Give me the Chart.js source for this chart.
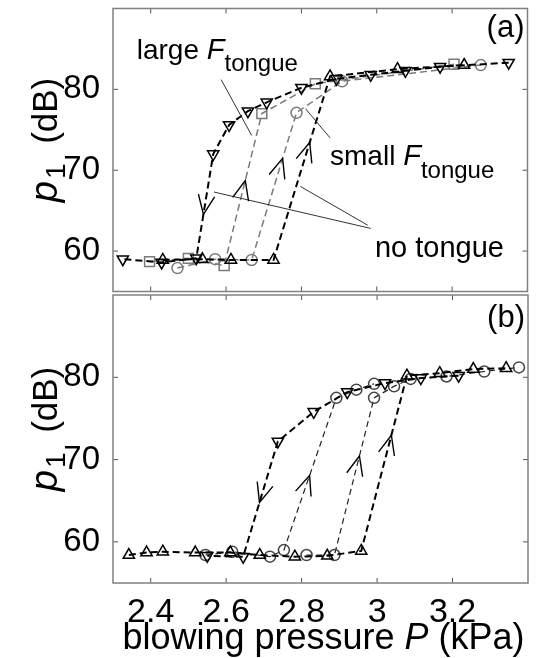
<!DOCTYPE html>
<html>
<head>
<meta charset="utf-8">
<script src="https://cdn.jsdelivr.net/npm/chart.js@4.4.1/dist/chart.umd.min.js"></script>
<style>
  html, body { margin: 0; padding: 0; background: #fff; }
  #wrap { position: relative; width: 536px; height: 658px; }
  #wrap canvas { position: absolute; left: 0; }
</style>
</head>
<body>
<div id="wrap">
  <canvas id="chartA" width="536" height="300" style="top:0"></canvas>
  <canvas id="chartB" width="536" height="371" style="top:287px"></canvas>
</div>
<script>
const xTicks = [2.4, 2.6, 2.8, 3, 3.2];
const xTickLabels = ['2.4', '2.6', '2.8', '3', '3.2'];
const yTicks = [60, 70, 80];

// panel (a) - pressure P (kPa) and level p1 (dB)
const aDownP = [3.350, 3.168, 3.076, 2.984, 2.893, 2.800, 2.708, 2.658, 2.608, 2.566, 2.521, 2.429, 2.326];
const aDownL = [83.3, 82.8, 82.3, 81.8, 81.3, 80.2, 78.4, 77.3, 75.6, 72.0, 59.1, 58.6, 59.0];
const aUpP = [2.432, 2.537, 2.613, 2.726, 2.876, 3.055, 3.232];
const aUpL = [58.9, 59.0, 58.9, 58.9, 81.6, 82.5, 83.0];
const aLargeP = [2.397, 2.500, 2.595, 2.695, 2.837, 3.205];
const aLargeL = [58.7, 59.1, 58.2, 77.0, 80.7, 83.1];
const aSmallP = [2.471, 2.571, 2.668, 2.787, 2.908, 3.276];
const aSmallL = [57.9, 59.0, 58.9, 77.1, 81.0, 83.0];

// panel (b)
const bDownP = [3.216, 3.116, 3.021, 2.921, 2.832, 2.737, 2.645, 2.550];
const bDownL = [80.2, 79.9, 79.3, 78.2, 75.8, 72.2, 58.2, 58.3];
const bUpP = [2.342, 2.389, 2.432, 2.518, 2.611, 2.689, 2.782, 2.868, 2.958, 3.079, 3.166, 3.255, 3.342];
const bUpL = [58.4, 58.7, 58.8, 58.7, 58.7, 58.4, 58.2, 58.3, 58.9, 80.2, 80.5, 81.0, 81.1];
const bCirc1P = [2.545, 2.616, 2.716, 2.753, 2.892, 2.945, 2.992];
const bCirc1L = [58.4, 58.8, 58.2, 59.0, 77.5, 78.5, 79.2];
const bCirc2P = [2.813, 2.887, 2.992, 3.045, 3.089, 3.184, 3.284, 3.376];
const bCirc2L = [58.4, 58.4, 77.5, 78.9, 79.8, 80.1, 80.7, 81.2];

const FONT = "'Liberation Sans', Arial, Helvetica, sans-serif";
const GRAY = '#7a7a7a';

const pts = (P, L) => P.map((p, i) => ({ x: p, y: L[i] }));

function series(P, L, col, lw, dash, shape, r, rot, ptCol) {
  return {
    data: pts(P, L), showLine: true,
    borderColor: col, borderWidth: lw, borderDash: dash,
    pointStyle: shape, pointRadius: r, rotation: rot || 0,
    pointBorderColor: ptCol || col, pointBorderWidth: 1.5,
    pointBackgroundColor: 'rgba(0,0,0,0)'
  };
}

function rich(ctx, x, y, parts, align) {
  const f = p => (p[2] ? 'italic ' : '') + p[1] + 'px ' + FONT;
  let w = 0;
  parts.forEach(p => { ctx.font = f(p); w += ctx.measureText(p[0]).width; });
  let cx = align === 'center' ? x - w / 2 : align === 'right' ? x - w : x;
  parts.forEach(p => {
    ctx.font = f(p);
    ctx.fillText(p[0], cx, y + (p[3] || 0));
    cx += ctx.measureText(p[0]).width;
  });
}

const decor = {
  id: 'decor',
  afterDraw(chart, args, o) {
    const { ctx, chartArea: a, scales: { x, y } } = chart;
    ctx.save();
    // inner ticks
    ctx.strokeStyle = '#555'; ctx.lineWidth = 1;
    ctx.beginPath();
    xTicks.forEach(v => {
      const px = x.getPixelForValue(v);
      ctx.moveTo(px, a.top); ctx.lineTo(px, a.top + 5);
      ctx.moveTo(px, a.bottom); ctx.lineTo(px, a.bottom - 5);
    });
    yTicks.forEach(v => {
      const py = y.getPixelForValue(v);
      ctx.moveTo(a.left, py); ctx.lineTo(a.left + 5, py);
      ctx.moveTo(a.right, py); ctx.lineTo(a.right - 5, py);
    });
    ctx.stroke();
    // frame
    ctx.strokeStyle = '#808080'; ctx.lineWidth = 1.5;
    ctx.strokeRect(a.left, a.top, a.right - a.left, a.bottom - a.top);

    // pointer lines
    ctx.strokeStyle = '#333'; ctx.lineWidth = 1;
    (o.pointers || []).forEach(([x0, y0, x1, y1]) => {
      ctx.beginPath();
      ctx.moveTo(x.getPixelForValue(x0), y.getPixelForValue(y0));
      ctx.lineTo(x.getPixelForValue(x1), y.getPixelForValue(y1));
      ctx.stroke();
    });

    // arrow heads on the jump lines
    ctx.strokeStyle = '#000'; ctx.lineWidth = 1.4;
    (o.arrows || []).forEach(([ds, i, t]) => {
      const d = chart.getDatasetMeta(ds).data;
      const p0 = d[i], p1 = d[i + 1];
      const tx = p0.x + (p1.x - p0.x) * t, ty = p0.y + (p1.y - p0.y) * t;
      const ang = Math.atan2(p1.y - p0.y, p1.x - p0.x);
      const len = 21, sp = 0.4;
      ctx.beginPath();
      ctx.moveTo(tx - len * Math.cos(ang - sp), ty - len * Math.sin(ang - sp));
      ctx.lineTo(tx, ty);
      ctx.lineTo(tx - len * Math.cos(ang + sp), ty - len * Math.sin(ang + sp));
      ctx.stroke();
    });

    // text labels
    ctx.fillStyle = '#000';
    ctx.textBaseline = 'alphabetic';
    (o.labels || []).forEach(l => {
      rich(ctx, x.getPixelForValue(l.x), y.getPixelForValue(l.y), l.parts, l.align);
    });

    // y title
    ctx.save();
    ctx.translate(44, (a.top + a.bottom) / 2 - 10);
    ctx.rotate(-Math.PI / 2);
    rich(ctx, 0, 13, [['p', 38, true], [' ', 8], ['1', 28, false, 8], ['  (dB)', 35]], 'center');
    ctx.restore();

    // x title
    if (o.xTitle) {
      rich(ctx, (a.left + a.right) / 2 + 3, chart.height - 9,
        [['blowing pressure ', 36], ['P', 36, true], [' (kPa)', 36]], 'center');
    }
    ctx.restore();
  }
};

function panel(id, datasets, o) {
  return new Chart(document.getElementById(id), {
    type: 'scatter',
    data: { datasets },
    options: {
      responsive: false,
      animation: false,
      layout: { padding: { top: 8, right: 6, left: 0, bottom: 0 } },
      plugins: { legend: { display: false }, tooltip: { enabled: false }, decor: o },
      scales: {
        x: {
          type: 'linear', min: 2.3, max: 3.4,
          afterBuildTicks: ax => { ax.ticks = xTicks.map(v => ({ value: v })); },
          afterFit: ax => { ax.height = o.xHeight; ax.paddingLeft = 0; ax.paddingRight = 0; },
          grid: { display: false }, border: { display: false },
          ticks: {
            display: !!o.xTitle, padding: 1, color: '#000', maxRotation: 0,
            font: { family: FONT, size: 34 },
            callback: (v, i) => xTickLabels[i]
          }
        },
        y: {
          type: 'linear', min: 55, max: 90,
          afterBuildTicks: ax => { ax.ticks = yTicks.map(v => ({ value: v })); },
          afterFit: ax => { ax.width = 113; ax.paddingTop = 0; ax.paddingBottom = 0; },
          grid: { display: false }, border: { display: false },
          ticks: { padding: 5, color: '#000', font: { family: FONT, size: 33 } }
        }
      }
    },
    plugins: [decor]
  });
}

panel('chartA', [
  series(aDownP, aDownL, '#000', 2, [7, 4], 'triangle', 6.5, 180),
  series(aUpP, aUpL, '#000', 2, [7, 4], 'triangle', 6.5, 0),
  series(aLargeP, aLargeL, GRAY, 1.5, [7, 4], 'rect', 7, 0),
  series(aSmallP, aSmallL, GRAY, 1.5, [7, 4], 'circle', 5.5, 0)
], {
  xHeight: 5,
  arrows: [[0, 9, 0.58], [2, 2, 0.56], [3, 2, 0.69], [1, 3, 0.64]],
  pointers: [
    [2.587, 81.2, 2.668, 74.3],
    [2.811, 77.6, 2.876, 74.0],
    [2.568, 67.3, 2.984, 62.8],
    [2.797, 68.0, 2.976, 63.2]
  ],
  labels: [
    { x: 2.363, y: 83.7, parts: [['large ', 28], ['F', 29, true], ['tongue', 24, false, 12]] },
    { x: 2.876, y: 70.6, parts: [['small ', 28], ['F', 29, true], ['tongue', 24, false, 13]] },
    { x: 2.995, y: 59.3, parts: [['no tongue', 29]] },
    { x: 3.392, y: 86.5, parts: [['(a)', 31]], align: 'right' }
  ]
});

panel('chartB', [
  series(bDownP, bDownL, '#000', 2, [7, 4], 'triangle', 6.5, 180),
  series(bUpP, bUpL, '#000', 2, [7, 4], 'triangle', 6.5, 0),
  series(bCirc1P, bCirc1L, '#222', 1.2, [6, 4], 'circle', 5.5, 0, '#444'),
  series(bCirc2P, bCirc2L, '#222', 1.2, [6, 4], 'circle', 5.5, 0, '#444')
], {
  xHeight: 75,
  xTitle: true,
  arrows: [[0, 5, 0.53], [1, 8, 0.66], [2, 3, 0.49], [3, 1, 0.63]],
  labels: [
    { x: 3.392, y: 86.1, parts: [['(b)', 31]], align: 'right' }
  ]
});
</script>
</body>
</html>
